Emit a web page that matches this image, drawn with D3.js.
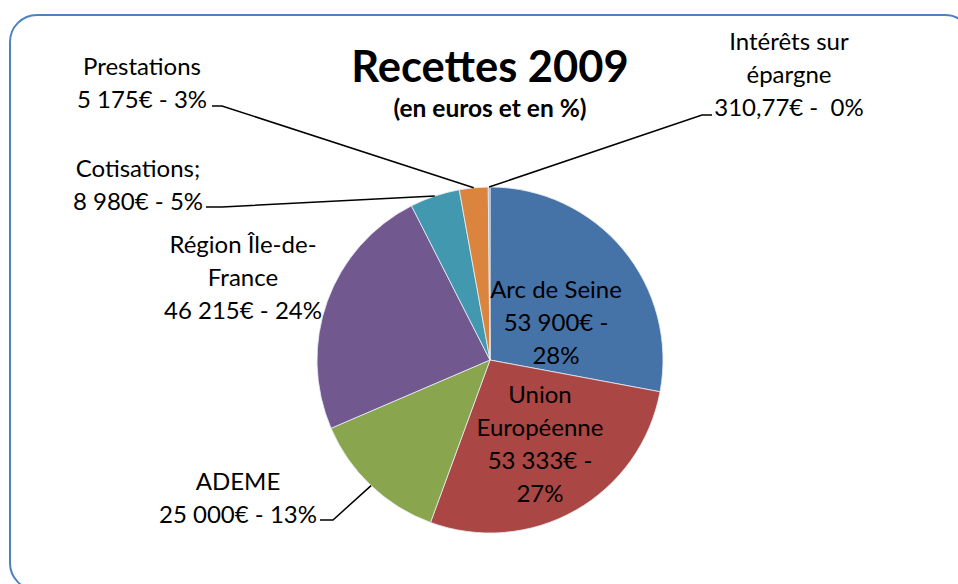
<!DOCTYPE html>
<html>
<head>
<meta charset="utf-8">
<script src="https://cdn.jsdelivr.net/npm/d3@7"></script>
<style>
  html, body { margin: 0; padding: 0; background: #fff; }
  svg { display: block; }
  text { font-family: Lato, "Open Sans", sans-serif; fill: #000; }
</style>
</head>
<body>
<svg id="chart" width="958" height="584"></svg>
<script>
// ---- data ----
const categories = ["Arc de Seine", "Union Européenne", "ADEME", "Région Île-de-France", "Cotisations", "Prestations", "Intérêts sur épargne"];
const values = [53900, 53333, 25000, 46215, 8980, 5175, 310.77];
const valueLabels = ["53 900€", "53 333€", "25 000€", "46 215€", "8 980€", "5 175€", "310,77€"];
const percentLabels = ["28%", "27%", "13%", "24%", "5%", "3%", "0%"];
const colors = ["#4572A7", "#AA4643", "#89A54E", "#71588F", "#4198AF", "#DB843D", "#93A9CF"];
const title = "Recettes 2009";
const subtitle = "(en euros et en %)";

// label text lines (as wrapped in the reference)
const labelLines = [
  ["Arc de Seine", valueLabels[0] + " -", percentLabels[0]],
  ["Union", "Européenne", valueLabels[1] + " -", percentLabels[1]],
  ["ADEME", valueLabels[2] + " - " + percentLabels[2]],
  ["Région Île-de-", "France", valueLabels[3] + " - " + percentLabels[3]],
  ["Cotisations;", valueLabels[4] + " - " + percentLabels[4]],
  ["Prestations", valueLabels[5] + " - " + percentLabels[5]],
  ["Intérêts sur", "épargne", valueLabels[6] + " -  " + percentLabels[6]]
];

// ---- layout ----
const W = 958, H = 584;
const cx = 490, cy = 360, R = 173;
const lineH = 33;
// label layout: center x, first baseline y, leader anchor (x,y) and elbow x (null = no leader)
const labelLayout = [
  { x: 556, y: 298, leader: null },
  { x: 540, y: 403, leader: null },
  { x: 238, y: 490, leader: { x: 320, y: 520, ex: 333 } },
  { x: 243, y: 253, leader: null },
  { x: 138, y: 177, leader: { x: 206, y: 207, ex: 222 } },
  { x: 142, y: 75,  leader: { x: 212, y: 106, ex: 222 } },
  { x: 789, y: 50,  leader: { x: 712, y: 115, ex: 702 } }
];

const svg = d3.select("#chart");

// frame
svg.append("rect")
  .attr("x", 10).attr("y", 15)
  .attr("width", 962).attr("height", 575)
  .attr("rx", 27).attr("ry", 27)
  .attr("fill", "#fff")
  .attr("stroke", "#4F81BD")
  .attr("stroke-width", 2);

// pie
const pie = d3.pie().sort(null).value(d => d)
  .startAngle(0).endAngle(2 * Math.PI);
const arcs = pie(values);
const arc = d3.arc().innerRadius(0).outerRadius(R);

const g = svg.append("g").attr("transform", `translate(${cx},${cy})`);
g.selectAll("path.slice")
  .data(arcs)
  .join("path")
  .attr("class", "slice")
  .attr("d", arc)
  .attr("fill", (d, i) => colors[i])
  .attr("stroke", "#e8eef6")
  .attr("stroke-width", 0.8);

// leader lines
arcs.forEach((a, i) => {
  const L = labelLayout[i].leader;
  if (!L) return;
  const mid = (a.startAngle + a.endAngle) / 2;
  const px = cx + R * Math.sin(mid);
  const py = cy - R * Math.cos(mid);
  svg.append("path")
    .attr("d", `M${L.x},${L.y}L${L.ex},${L.y}L${px},${py}`)
    .attr("fill", "none")
    .attr("stroke", "#000")
    .attr("stroke-width", 1.5);
});

// labels
labelLines.forEach((lines, i) => {
  const lay = labelLayout[i];
  const t = svg.append("text")
    .attr("text-anchor", "middle")
    .attr("font-size", 24);
  lines.forEach((ln, j) => {
    t.append("tspan")
      .attr("x", lay.x)
      .attr("y", lay.y + j * lineH)
      .attr("xml:space", "preserve")
      .style("white-space", "pre")
      .text(ln);
  });
});

// title
svg.append("text")
  .attr("x", 490).attr("y", 82)
  .attr("text-anchor", "middle")
  .attr("font-size", 43.5)
  .attr("font-weight", "bold")
  .text(title);
svg.append("text")
  .attr("x", 490).attr("y", 117)
  .attr("text-anchor", "middle")
  .attr("font-size", 24.5)
  .attr("font-weight", "bold")
  .text(subtitle);
</script>
</body>
</html>
